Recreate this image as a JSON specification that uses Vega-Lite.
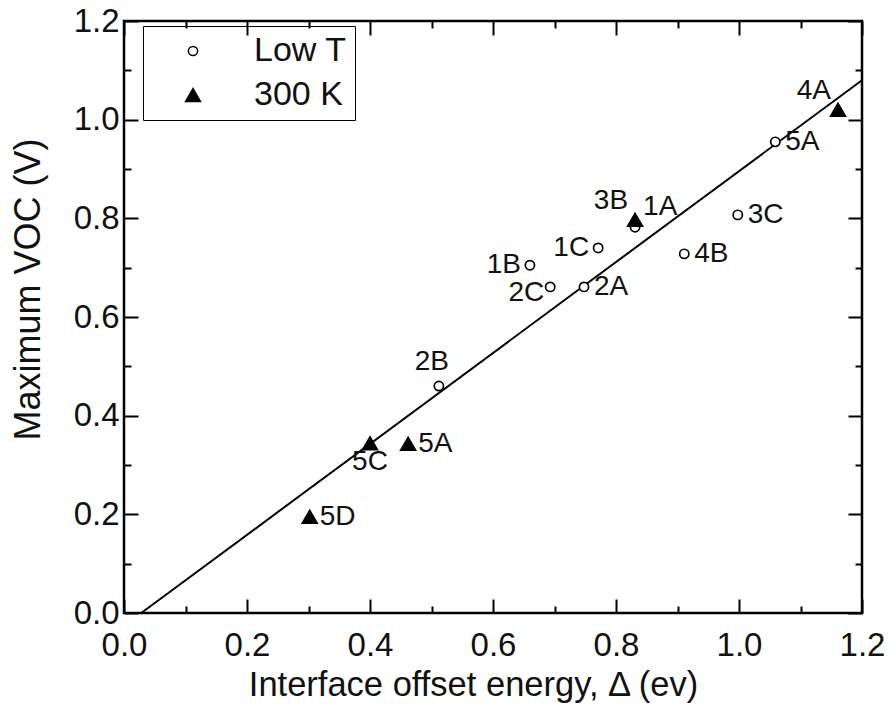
{
  "$schema": "https://vega.github.io/schema/vega-lite/v6.json",
  "width": 738,
  "height": 592,
  "autosize": {"type": "none"},
  "padding": {"left": 124, "top": 21, "right": 31, "bottom": 98},
  "background": "white",
  "config": {
    "view": {"stroke": "black", "strokeWidth": 2.5},
    "font": "Liberation Sans",
    "axis": {"domain": false, "grid": false, "tickColor": "black", "tickWidth": 2, "labelColor": "#111", "titleColor": "#111", "labelFont": "Liberation Sans", "titleFont": "Liberation Sans", "titleFontWeight": "normal", "labelFontSize": 33, "titleFontSize": 34.5},
    "legend": {"labelFont": "Liberation Sans"}
  },
  "datasets": {
    "fit": [{"x": 0.028, "y": 0.0}, {"x": 1.2, "y": 1.08}],
    "pts": [
      {"delta": 0.512, "voc": 0.46, "series": "Low T", "id": "2B"},
      {"delta": 0.693, "voc": 0.661, "series": "Low T", "id": "2C"},
      {"delta": 0.748, "voc": 0.661, "series": "Low T", "id": "2A"},
      {"delta": 0.66, "voc": 0.705, "series": "Low T", "id": "1B"},
      {"delta": 0.771, "voc": 0.74, "series": "Low T", "id": "1C"},
      {"delta": 0.831, "voc": 0.782, "series": "Low T", "id": "1A"},
      {"delta": 0.911, "voc": 0.728, "series": "Low T", "id": "4B"},
      {"delta": 0.998, "voc": 0.807, "series": "Low T", "id": "3C"},
      {"delta": 1.059, "voc": 0.955, "series": "Low T", "id": "5A"},
      {"delta": 0.831, "voc": 0.797, "series": "300 K", "id": "3B"},
      {"delta": 1.161, "voc": 1.02, "series": "300 K", "id": "4A"},
      {"delta": 0.4, "voc": 0.344, "series": "300 K", "id": "5C"},
      {"delta": 0.462, "voc": 0.343, "series": "300 K", "id": "5A"},
      {"delta": 0.302, "voc": 0.195, "series": "300 K", "id": "5D"}
    ],
    "lab_right": [
      {"delta": 0.748, "voc": 0.661, "id": "2A"},
      {"delta": 0.911, "voc": 0.728, "id": "4B"},
      {"delta": 0.998, "voc": 0.807, "id": "3C"},
      {"delta": 1.059, "voc": 0.955, "id": "5A"},
      {"delta": 0.462, "voc": 0.343, "id": "5A"},
      {"delta": 0.302, "voc": 0.195, "id": "5D"}
    ],
    "lab_left": [
      {"delta": 0.66, "voc": 0.705, "id": "1B"},
      {"delta": 0.771, "voc": 0.74, "id": "1C"}
    ],
    "lab_leftlow": [{"delta": 0.693, "voc": 0.661, "id": "2C"}],
    "lab_above": [{"delta": 0.512, "voc": 0.46, "id": "2B"}],
    "lab_below": [{"delta": 0.4, "voc": 0.344, "id": "5C"}],
    "lab_upright": [{"delta": 0.831, "voc": 0.782, "id": "1A"}],
    "lab_upleft": [
      {"delta": 0.831, "voc": 0.797, "id": "3B"},
      {"delta": 1.161, "voc": 1.02, "id": "4A"}
    ]
  },
  "resolve": {"axis": {"x": "independent", "y": "independent"}},
  "layer": [
    {
      "data": {"name": "fit"},
      "mark": {"type": "line", "color": "black", "strokeWidth": 2},
      "encoding": {
        "x": {"field": "x", "type": "quantitative", "scale": {"domain": [0, 1.2], "nice": false, "zero": false},
          "axis": {"orient": "bottom", "values": [0, 0.2, 0.4, 0.6, 0.8, 1.0, 1.2], "format": ".1f", "tickSize": -14, "labelPadding": 30, "title": "Interface offset energy, Δ (ev)", "titlePadding": 6, "titleX": 349, "labelFlush": false}},
        "y": {"field": "y", "type": "quantitative", "scale": {"domain": [0, 1.2], "nice": false, "zero": false},
          "axis": {"orient": "left", "values": [0, 0.2, 0.4, 0.6, 0.8, 1.0, 1.2], "format": ".1f", "tickSize": -14, "labelPadding": 19, "title": "Maximum VOC (V)", "titleFontSize": 36, "titleX": -77, "titleY": 268, "labelFlush": false}}
      }
    },
    {
      "data": {"name": "pts"},
      "mark": {"type": "point", "filled": true, "stroke": "black", "strokeWidth": 1.7, "opacity": 1},
      "encoding": {
        "x": {"field": "delta", "type": "quantitative", "scale": {"domain": [0, 1.2], "nice": false, "zero": false},
          "axis": {"orient": "bottom", "values": [0.1, 0.3, 0.5, 0.7, 0.9, 1.1], "tickSize": -7, "labels": false, "title": null}},
        "y": {"field": "voc", "type": "quantitative", "scale": {"domain": [0, 1.2], "nice": false, "zero": false},
          "axis": {"orient": "left", "values": [0.1, 0.3, 0.5, 0.7, 0.9, 1.1], "tickSize": -7, "labels": false, "title": null}},
        "shape": {"field": "series", "type": "nominal", "scale": {"domain": ["Low T", "300 K"], "range": ["circle", "triangle-up"]}, "title": null},
        "fill": {"field": "series", "type": "nominal", "scale": {"domain": ["Low T", "300 K"], "range": ["white", "black"]}, "title": null},
        "size": {"field": "series", "type": "nominal", "scale": {"domain": ["Low T", "300 K"], "range": [85, 220]}, "title": null, "legend": {
          "orient": "none", "legendX": 19, "legendY": 5, "strokeColor": "black", "padding": 8, "symbolOffset": 25, "labelOffset": 44, "labelFontSize": 34, "labelColor": "#111", "rowPadding": 10,
          "encode": {"legend": {"update": {"strokeWidth": {"value": 2}}}, "symbols": {"update": {"stroke": {"value": "black"}, "strokeWidth": {"value": 1.5}}}}}}
      }
    },
    {
      "data": {"name": "lab_right"},
      "mark": {"type": "text", "align": "left", "baseline": "middle", "dx": 10, "fontSize": 28, "color": "#111"},
      "encoding": {
        "x": {"field": "delta", "type": "quantitative", "scale": {"domain": [0, 1.2], "nice": false, "zero": false},
          "axis": {"orient": "top", "values": [0, 0.2, 0.4, 0.6, 0.8, 1.0, 1.2], "tickSize": -14, "labels": false, "title": null}},
        "y": {"field": "voc", "type": "quantitative", "scale": {"domain": [0, 1.2], "nice": false, "zero": false},
          "axis": {"orient": "right", "values": [0, 0.2, 0.4, 0.6, 0.8, 1.0, 1.2], "tickSize": -14, "labels": false, "title": null}},
        "text": {"field": "id"}
      }
    },
    {
      "data": {"name": "lab_left"},
      "mark": {"type": "text", "align": "right", "baseline": "middle", "dx": -9, "dy": 0, "fontSize": 28, "color": "#111"},
      "encoding": {
        "x": {"field": "delta", "type": "quantitative", "scale": {"domain": [0, 1.2], "nice": false, "zero": false},
          "axis": {"orient": "top", "values": [0.1, 0.3, 0.5, 0.7, 0.9, 1.1], "tickSize": -7, "labels": false, "title": null}},
        "y": {"field": "voc", "type": "quantitative", "scale": {"domain": [0, 1.2], "nice": false, "zero": false},
          "axis": {"orient": "right", "values": [0.1, 0.3, 0.5, 0.7, 0.9, 1.1], "tickSize": -7, "labels": false, "title": null}},
        "text": {"field": "id"}
      }
    },
    {
      "data": {"name": "lab_leftlow"},
      "mark": {"type": "text", "align": "right", "baseline": "middle", "dx": -6, "dy": 6, "fontSize": 28, "color": "#111"},
      "encoding": {
        "x": {"field": "delta", "type": "quantitative", "axis": null},
        "y": {"field": "voc", "type": "quantitative", "axis": null},
        "text": {"field": "id"}
      }
    },
    {
      "data": {"name": "lab_above"},
      "mark": {"type": "text", "align": "center", "baseline": "middle", "dx": -7, "dy": -24, "fontSize": 28, "color": "#111"},
      "encoding": {
        "x": {"field": "delta", "type": "quantitative", "axis": null},
        "y": {"field": "voc", "type": "quantitative", "axis": null},
        "text": {"field": "id"}
      }
    },
    {
      "data": {"name": "lab_below"},
      "mark": {"type": "text", "align": "center", "baseline": "middle", "dy": 19, "fontSize": 28, "color": "#111"},
      "encoding": {
        "x": {"field": "delta", "type": "quantitative", "axis": null},
        "y": {"field": "voc", "type": "quantitative", "axis": null},
        "text": {"field": "id"}
      }
    },
    {
      "data": {"name": "lab_upright"},
      "mark": {"type": "text", "align": "left", "baseline": "middle", "dx": 8, "dy": -20, "fontSize": 28, "color": "#111"},
      "encoding": {
        "x": {"field": "delta", "type": "quantitative", "axis": null},
        "y": {"field": "voc", "type": "quantitative", "axis": null},
        "text": {"field": "id"}
      }
    },
    {
      "data": {"name": "lab_upleft"},
      "mark": {"type": "text", "align": "right", "baseline": "middle", "dx": -7, "dy": -19, "fontSize": 28, "color": "#111"},
      "encoding": {
        "x": {"field": "delta", "type": "quantitative", "axis": null},
        "y": {"field": "voc", "type": "quantitative", "axis": null},
        "text": {"field": "id"}
      }
    }
  ]
}
